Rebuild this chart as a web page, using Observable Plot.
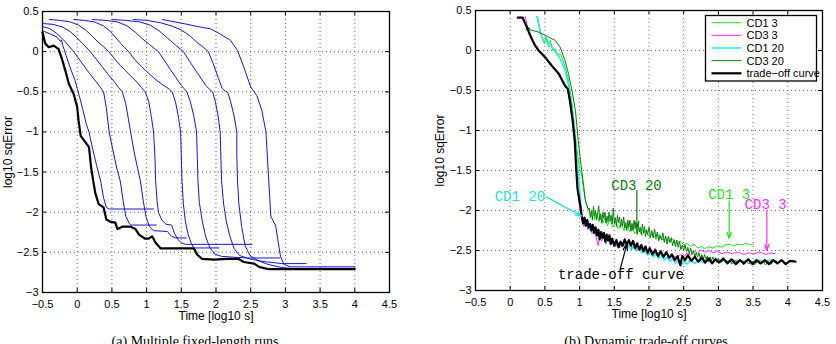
<!DOCTYPE html>
<html><head><meta charset="utf-8">
<script src="https://cdn.jsdelivr.net/npm/d3@7"></script>
<script src="https://cdn.jsdelivr.net/npm/@observablehq/plot@0.6"></script>
<style>
html,body{margin:0;padding:0;background:#fff;overflow:hidden}
#fig{position:relative;width:836px;height:344px;overflow:hidden}
.panel{position:absolute;top:0}
.caption{position:absolute;top:334px;font:14px/16px "Liberation Serif","Times New Roman",serif;white-space:nowrap;transform:translateX(-50%)}
</style></head>
<body><div id="fig"></div>
<script>
// shared axes
const xTicks = [-0.5, 0, 0.5, 1, 1.5, 2, 2.5, 3, 3.5, 4, 4.5];
const yTicks = [0.5, 0, -0.5, -1, -1.5, -2, -2.5, -3];

// (a) individual runs: [log10 time, log10 squared error]
const run1 = [[-0.5,0.26],[-0.385,0.22],[-0.29,0.18],[-0.24,0.126],[-0.226,0.147],[-0.207,0.076],[-0.144,-0.09],[-0.08,-0.25],[-0.03,-0.36],[0.0,-0.46],[0.03,-0.55],[0.08,-0.72],[0.13,-0.9],[0.17,-1.0],[0.22,-1.2],[0.28,-1.42],[0.34,-1.62],[0.38,-1.82],[0.42,-1.94],[0.46,-1.96],[1.10,-1.96]];
const run2 = [[-0.5,0.31],[-0.40,0.29],[-0.30,0.23],[-0.20,0.15],[-0.12,0.07],[-0.05,0.0],[0.05,-0.12],[0.15,-0.24],[0.25,-0.35],[0.33,-0.44],[0.38,-0.50],[0.42,-0.70],[0.46,-1.0],[0.52,-1.25],[0.57,-1.45],[0.62,-1.61],[0.66,-1.85],[0.70,-2.05],[0.75,-2.14],[0.78,-2.16],[1.14,-2.16]];
const run3 = [[-0.5,0.35],[-0.35,0.34],[-0.22,0.31],[-0.10,0.25],[0.0,0.17],[0.08,0.10],[0.19,0.0],[0.28,-0.10],[0.37,-0.20],[0.46,-0.30],[0.54,-0.38],[0.60,-0.45],[0.65,-0.50],[0.70,-0.65],[0.74,-0.85],[0.77,-1.0],[0.82,-1.25],[0.87,-1.45],[0.91,-1.61],[0.95,-1.85],[0.99,-2.05],[1.04,-2.18],[1.10,-2.23],[1.30,-2.24],[1.36,-2.30],[1.42,-2.32],[1.57,-2.32]];
const run4 = [[-0.40,0.40],[-0.25,0.39],[-0.10,0.37],[0.02,0.33],[0.12,0.27],[0.22,0.19],[0.30,0.12],[0.38,0.06],[0.455,0.0],[0.53,-0.08],[0.62,-0.17],[0.70,-0.24],[0.78,-0.31],[0.86,-0.38],[0.93,-0.45],[0.98,-0.50],[1.03,-0.62],[1.07,-0.82],[1.10,-1.0],[1.12,-1.3],[1.13,-1.61],[1.15,-1.85],[1.17,-2.0],[1.22,-2.1],[1.28,-2.15],[1.36,-2.16],[1.40,-2.26],[1.45,-2.34],[1.50,-2.38],[1.56,-2.40],[2.52,-2.40]];
const run5 = [[-0.05,0.40],[0.10,0.39],[0.25,0.37],[0.38,0.32],[0.48,0.25],[0.56,0.17],[0.64,0.09],[0.74,0.0],[0.83,-0.10],[0.93,-0.19],[1.03,-0.27],[1.12,-0.34],[1.21,-0.40],[1.28,-0.44],[1.33,-0.47],[1.37,-0.50],[1.42,-0.64],[1.46,-0.82],[1.49,-1.0],[1.50,-1.3],[1.51,-1.61],[1.53,-1.9],[1.56,-2.12],[1.60,-2.28],[1.64,-2.38],[1.68,-2.445],[2.04,-2.445]];
const run6 = [[0.22,0.40],[0.40,0.39],[0.58,0.37],[0.72,0.32],[0.84,0.24],[0.94,0.16],[1.04,0.09],[1.11,0.04],[1.17,0.0],[1.25,-0.10],[1.34,-0.22],[1.42,-0.32],[1.49,-0.41],[1.54,-0.46],[1.58,-0.50],[1.63,-0.62],[1.68,-0.8],[1.72,-1.0],[1.73,-1.3],[1.74,-1.61],[1.76,-1.88],[1.80,-2.1],[1.85,-2.3],[1.91,-2.44],[1.98,-2.52],[2.08,-2.55],[2.25,-2.56],[2.45,-2.57],[2.92,-2.57]];
const run7 = [[0.50,0.40],[0.70,0.39],[0.90,0.37],[1.05,0.33],[1.18,0.26],[1.30,0.17],[1.42,0.08],[1.53,0.0],[1.62,-0.12],[1.71,-0.24],[1.79,-0.34],[1.86,-0.43],[1.91,-0.47],[1.95,-0.50],[1.99,-0.62],[2.03,-0.8],[2.06,-1.0],[2.07,-1.3],[2.08,-1.61],[2.11,-1.9],[2.15,-2.12],[2.20,-2.3],[2.26,-2.45],[2.34,-2.54],[2.48,-2.58],[2.65,-2.61],[2.85,-2.63],[2.95,-2.64],[3.30,-2.64]];
const run8 = [[0.81,0.40],[1.00,0.39],[1.20,0.36],[1.36,0.32],[1.50,0.27],[1.62,0.20],[1.72,0.12],[1.81,0.06],[1.89,0.0],[1.96,-0.15],[2.03,-0.32],[2.09,-0.46],[2.13,-0.49],[2.17,-0.51],[2.21,-0.62],[2.26,-0.8],[2.30,-1.0],[2.30,-1.3],[2.31,-1.61],[2.33,-1.9],[2.37,-2.18],[2.42,-2.42],[2.49,-2.54],[2.60,-2.60],[2.75,-2.65],[2.95,-2.69],[3.10,-2.70],[4.0,-2.70]];
const run9 = [[1.23,0.40],[1.51,0.354],[1.78,0.305],[1.92,0.284],[2.06,0.22],[2.21,0.14],[2.31,0.014],[2.40,-0.19],[2.50,-0.44],[2.59,-0.55],[2.66,-0.73],[2.72,-1.0],[2.74,-1.3],[2.76,-1.61],[2.77,-1.76],[2.79,-2.05],[2.86,-2.17],[2.89,-2.34],[2.93,-2.55],[2.98,-2.65],[3.07,-2.68],[4.0,-2.68]];
const envelopeA = [[-0.5,0.24],[-0.46,0.10],[-0.41,0.055],[-0.34,0.075],[-0.27,0.035],[-0.22,-0.09],[-0.17,-0.24],[-0.12,-0.40],[-0.05,-0.53],[0.0,-0.69],[0.02,-0.86],[0.05,-1.05],[0.12,-1.13],[0.17,-1.19],[0.20,-1.44],[0.22,-1.55],[0.26,-1.76],[0.31,-1.90],[0.38,-1.94],[0.42,-2.09],[0.48,-2.12],[0.55,-2.13],[0.58,-2.21],[0.65,-2.18],[0.77,-2.18],[0.84,-2.21],[0.89,-2.28],[0.98,-2.33],[1.03,-2.33],[1.08,-2.30],[1.13,-2.38],[1.20,-2.45],[1.68,-2.45],[1.73,-2.53],[1.80,-2.58],[1.97,-2.59],[2.16,-2.58],[2.32,-2.58],[2.40,-2.62],[2.55,-2.64],[2.62,-2.68],[2.76,-2.71],[4.0,-2.71]];

// (b) compared methods
const cd1_3 = [[0.384,0.425],[0.432,0.229],[0.466,0.146],[0.494,0.083],[0.513,0.175],[0.552,0.042],[0.581,0.125],[0.610,0.0],[0.648,0.021],[0.686,-0.0625],[0.720,-0.042],[0.754,-0.104],[0.792,-0.208],[0.830,-0.333],[0.864,-0.5],[0.898,-0.708],[0.936,-1.04],[0.975,-1.33],[1.008,-1.5],[1.032,-1.567],[1.056,-1.733],[1.090,-1.90],[1.128,-1.983],
  [1.16,-2.06],[1.19,-2.00],[1.22,-2.11],[1.25,-2.03],[1.28,-2.14],[1.31,-2.08],[1.34,-2.15],[1.37,-2.09],[1.40,-2.19],[1.44,-2.11],[1.48,-2.21],[1.52,-2.13],[1.56,-2.23],[1.60,-2.16],[1.64,-2.25],[1.68,-2.18],[1.72,-2.26],[1.76,-2.22],[1.80,-2.29],[1.85,-2.22],[1.90,-2.31],[1.95,-2.25],[2.00,-2.33],[2.05,-2.29],[2.10,-2.36],[2.15,-2.30],[2.20,-2.37],[2.25,-2.34],[2.30,-2.39],[2.35,-2.35],[2.40,-2.42],[2.45,-2.38],[2.50,-2.43],[2.55,-2.41],[2.60,-2.45],[2.65,-2.42],[2.70,-2.47],[2.75,-2.45],[2.80,-2.48],[2.86,-2.45],[2.92,-2.47],[2.98,-2.44],[3.04,-2.46],[3.10,-2.43],[3.16,-2.42],[3.22,-2.44],[3.28,-2.42],[3.34,-2.43],[3.40,-2.41],[3.46,-2.43],[3.50,-2.42]];
const cd3_3 = [[0.216,0.425],[0.24,0.333],[0.273,0.208],[0.302,0.146],[0.336,0.104],[0.36,0.06],[0.41,-0.01],[0.5,-0.09],[0.6,-0.2],[0.7,-0.3],[0.79,-0.45],[0.83,-0.5],[0.86,-0.64],[0.9,-0.9],[0.93,-1.15],[0.95,-1.48],[0.975,-1.75],[1.0,-1.95],
  [1.03,-2.10],[1.06,-2.20],[1.09,-2.14],[1.12,-2.24],[1.15,-2.19],[1.18,-2.29],[1.21,-2.23],[1.24,-2.34],[1.27,-2.44],[1.29,-2.30],[1.32,-2.38],[1.35,-2.33],[1.38,-2.42],[1.41,-2.36],[1.44,-2.43],[1.48,-2.38],[1.52,-2.45],[1.56,-2.40],[1.60,-2.46],[1.64,-2.41],[1.68,-2.47],[1.72,-2.42],[1.76,-2.48],[1.80,-2.44],[1.84,-2.50],[1.88,-2.46],[1.92,-2.52],[1.96,-2.48],[2.00,-2.54],[2.05,-2.50],[2.10,-2.56],[2.15,-2.52],[2.20,-2.58],[2.25,-2.54],[2.30,-2.60],[2.35,-2.56],[2.40,-2.60],[2.45,-2.55],[2.50,-2.58],[2.55,-2.53],[2.60,-2.56],[2.65,-2.51],[2.70,-2.53],[2.75,-2.49],[2.80,-2.52],[2.86,-2.50],[2.92,-2.53],[2.98,-2.51],[3.05,-2.54],[3.12,-2.52],[3.20,-2.54],[3.28,-2.52],[3.36,-2.55],[3.44,-2.53],[3.52,-2.54],[3.60,-2.52],[3.68,-2.55],[3.76,-2.53],[3.82,-2.54]];
const cd1_20 = [[0.393,0.425],[0.417,0.313],[0.441,0.208],[0.466,0.146],[0.504,0.104],[0.538,0.133],[0.566,0.083],[0.60,0.042],[0.638,0.0],[0.672,-0.042],[0.706,-0.083],[0.744,-0.146],[0.782,-0.229],[0.816,-0.333],[0.85,-0.479],[0.879,-0.625],[0.912,-0.875],[0.946,-1.21],[0.975,-1.46],[1.0,-1.73],[1.018,-1.94],
  [1.03,-2.05],[1.05,-2.16],[1.07,-2.09],[1.09,-2.19],[1.11,-2.14],[1.14,-2.24],[1.17,-2.18],[1.20,-2.28],[1.23,-2.22],[1.26,-2.32],[1.29,-2.26],[1.32,-2.36],[1.35,-2.30],[1.38,-2.40],[1.41,-2.33],[1.44,-2.41],[1.47,-2.36],[1.50,-2.44],[1.54,-2.39],[1.58,-2.46],[1.62,-2.41],[1.66,-2.47],[1.70,-2.43],[1.74,-2.49],[1.78,-2.44],[1.82,-2.50],[1.86,-2.46],[1.90,-2.53],[1.94,-2.49],[1.98,-2.56],[2.02,-2.51],[2.06,-2.58],[2.10,-2.54],[2.14,-2.60],[2.18,-2.56],[2.22,-2.62],[2.26,-2.58],[2.30,-2.64],[2.34,-2.60],[2.38,-2.66],[2.42,-2.62],[2.46,-2.70],[2.50,-2.63],[2.55,-2.67],[2.60,-2.62],[2.66,-2.66],[2.72,-2.62],[2.78,-2.65],[2.84,-2.62],[2.90,-2.65],[2.96,-2.62],[3.02,-2.64],[3.10,-2.62],[3.18,-2.65],[3.26,-2.62],[3.34,-2.64],[3.42,-2.62],[3.50,-2.65],[3.58,-2.62],[3.66,-2.64],[3.74,-2.62],[3.84,-2.63]];
const cd3_20 = [[0.225,0.258],[0.26,0.27],[0.27,0.29],[0.28,0.26],[0.41,0.23],[0.55,0.17],[0.65,0.125],[0.72,0.04],[0.79,-0.125],[0.84,-0.29],[0.89,-0.5],[0.94,-0.75],[0.98,-1.125],[1.03,-1.5],[1.06,-1.7],[1.08,-1.86],[1.12,-1.98],
  [1.140,-1.97],[1.155,-2.09],[1.170,-2.01],[1.185,-2.12],[1.200,-1.95],[1.215,-2.07],[1.230,-2.01],[1.245,-2.12],[1.260,-2.04],[1.275,-1.94],[1.290,-2.12],[1.305,-2.04],[1.320,-2.16],[1.335,-2.02],[1.350,-2.10],[1.365,-2.02],[1.380,-2.16],[1.395,-2.07],[1.410,-2.14],[1.425,-2.02],[1.440,-2.13],[1.455,-2.06],[1.470,-2.17],[1.485,-1.97],[1.500,-2.16],[1.515,-2.09],[1.530,-2.20],[1.545,-2.06],[1.560,-2.15],[1.575,-2.08],[1.590,-2.21],[1.605,-2.11],[1.620,-2.19],[1.635,-2.08],[1.650,-2.22],[1.665,-2.15],[1.680,-2.25],[1.695,-2.12],[1.710,-2.21],[1.725,-2.12],[1.740,-2.26],[1.755,-2.16],[1.770,-2.25],[1.785,-2.12],[1.800,-2.23],[1.815,-2.17],[1.830,-2.30],[1.845,-2.16],[1.860,-2.27],[1.875,-2.21],[1.890,-2.30],[1.905,-2.17],[1.920,-2.28],[1.935,-2.20],[1.950,-2.33],[1.965,-2.24],[1.980,-2.30],[2.00,-2.21],[2.02,-2.34],[2.04,-2.25],[2.06,-2.34],[2.08,-2.23],[2.10,-2.34],[2.12,-2.27],[2.14,-2.38],[2.16,-2.31],[2.18,-2.37],[2.20,-2.28],[2.22,-2.40],[2.24,-2.32],[2.26,-2.42],[2.28,-2.32],[2.30,-2.40],[2.32,-2.34],[2.34,-2.44],[2.36,-2.37],[2.38,-2.45],[2.40,-2.37],[2.42,-2.46],[2.44,-2.39],[2.46,-2.49],[2.48,-2.43],[2.50,-2.50],[2.52,-2.43],[2.54,-2.51],[2.56,-2.46],[2.58,-2.54],[2.60,-2.47],[2.62,-2.55],[2.64,-2.50],[2.66,-2.58],[2.68,-2.53],[2.70,-2.58],[2.72,-2.53],[2.74,-2.60],[2.76,-2.55],[2.78,-2.62],[2.80,-2.55],[2.82,-2.61],[2.84,-2.57],[2.86,-2.64],[2.88,-2.58],[2.90,-2.63],[2.92,-2.58],[2.94,-2.63],[2.96,-2.59],[2.98,-2.65],[3.00,-2.60],[3.04,-2.65],[3.08,-2.61],[3.12,-2.66],[3.16,-2.62],[3.20,-2.67],[3.24,-2.62],[3.28,-2.66],[3.32,-2.62],[3.36,-2.68],[3.40,-2.63],[3.44,-2.67],[3.48,-2.63],[3.52,-2.68],[3.56,-2.64],[3.60,-2.67],[3.64,-2.63],[3.68,-2.68],[3.72,-2.64],[3.76,-2.67],[3.80,-2.63],[3.85,-2.65]];
const tradeOff = [[0.11,0.41],[0.18,0.41],[0.22,0.33],[0.26,0.25],[0.31,0.146],[0.36,0.06],[0.41,0.0],[0.50,-0.08],[0.60,-0.19],[0.70,-0.29],[0.79,-0.44],[0.83,-0.48],[0.86,-0.625],[0.90,-0.875],[0.93,-1.125],[0.95,-1.46],[0.97,-1.73],[1.01,-1.94],
  [1.03,-2.07],[1.05,-2.16],[1.07,-2.09],[1.09,-2.19],[1.11,-2.12],[1.13,-2.21],[1.15,-2.17],[1.17,-2.25],[1.19,-2.18],[1.21,-2.28],[1.23,-2.21],[1.25,-2.31],[1.27,-2.24],[1.29,-2.36],[1.31,-2.27],[1.33,-2.34],[1.35,-2.28],[1.37,-2.39],[1.39,-2.30],[1.41,-2.37],[1.43,-2.31],[1.45,-2.42],[1.47,-2.35],[1.50,-2.44],[1.53,-2.37],[1.56,-2.46],[1.59,-2.39],[1.62,-2.44],[1.65,-2.36],[1.68,-2.43],[1.71,-2.37],[1.74,-2.44],[1.77,-2.38],[1.80,-2.47],[1.83,-2.41],[1.86,-2.49],[1.89,-2.43],[1.92,-2.51],[1.95,-2.45],[1.98,-2.53],[2.01,-2.47],[2.05,-2.55],[2.09,-2.49],[2.13,-2.57],[2.17,-2.51],[2.21,-2.58],[2.25,-2.52],[2.29,-2.59],[2.33,-2.55],[2.37,-2.62],[2.41,-2.57],[2.45,-2.68],[2.48,-2.57],[2.52,-2.62],[2.56,-2.56],[2.61,-2.63],[2.66,-2.58],[2.71,-2.64],[2.76,-2.59],[2.81,-2.65],[2.86,-2.60],[2.91,-2.66],[2.96,-2.61],[3.01,-2.65],[3.07,-2.60],[3.13,-2.66],[3.19,-2.61],[3.25,-2.67],[3.31,-2.62],[3.37,-2.66],[3.43,-2.61],[3.49,-2.67],[3.55,-2.62],[3.61,-2.66],[3.67,-2.62],[3.73,-2.67],[3.79,-2.62],[3.85,-2.66],[3.91,-2.62],[3.97,-2.67],[4.03,-2.63],[4.11,-2.64]];

const seriesB = [
  {name: "CD1 3", data: cd1_3, color: "#1fe41f", width: 1},
  {name: "CD3 3", data: cd3_3, color: "#ff2bff", width: 1},
  {name: "CD1 20", data: cd1_20, color: "#22ecec", width: 1.5},
  {name: "CD3 20", data: cd3_20, color: "#0a800a", width: 1},
  {name: "trade\u2212off curve", data: tradeOff, color: "#000000", width: 2.2}
];

// in-plot callouts for panel (b)
const callouts = [
  {text: "CD1 20", color: "#22dede", x: 0.14, y: -1.83, x1: 0.52, y1: -1.83, x2: 1.03, y2: -2.07},
  {text: "CD3 20", color: "#0a800a", x: 1.82, y: -1.684, x1: 1.825, y1: -1.75, x2: 1.825, y2: -2.21},
  {text: "CD1 3", color: "#1fe41f", x: 3.155, y: -1.796, x1: 3.155, y1: -1.88, x2: 3.155, y2: -2.35},
  {text: "CD3 3", color: "#ff2bff", x: 3.68, y: -1.929, x1: 3.698, y1: -2.0, x2: 3.698, y2: -2.50},
  {text: "trade-off curve", color: "#000000", x: 1.596, y: -2.796, x1: 1.585, y1: -2.733, x2: 1.681, y2: -2.421}
];

const captions = [
  {text: "(a) Multiple fixed-length runs", x: 195},
  {text: "(b) Dynamic trade-off curves", x: 646}
];

const runsA = [run1, run2, run3, run4, run5, run6, run7, run8, run9];
const rowsA = runsA.flatMap((r, i) => r.map(([t, e]) => ({run: i, t, e})));

const sans = "'Liberation Sans', Arial, Helvetica, sans-serif";
const fmt = d => d < 0 ? "\u2212" + Math.abs(d) : String(d);

function axesFrame(innerW, innerH, yTitleDx) {
  return {
    under: [
      Plot.gridX(xTicks, {stroke: "#555", strokeOpacity: 1, strokeWidth: 0.9, strokeDasharray: "1,3"}),
      Plot.gridY(yTicks, {stroke: "#555", strokeOpacity: 1, strokeWidth: 0.9, strokeDasharray: "1,3"})
    ],
    over: [
      Plot.frame({stroke: "#000", strokeWidth: 1.3}),
      Plot.ruleX(xTicks, {x: d => d, insetTop: innerH - 4, stroke: "#000"}),
      Plot.ruleX(xTicks, {x: d => d, insetBottom: innerH - 4, stroke: "#000"}),
      Plot.ruleY(yTicks, {y: d => d, insetRight: innerW - 4, stroke: "#000"}),
      Plot.ruleY(yTicks, {y: d => d, insetLeft: innerW - 4, stroke: "#000"}),
      Plot.axisX(xTicks, {anchor: "bottom", tickSize: 0, tickPadding: 8, tickFormat: fmt, label: null, fontSize: 11}),
      Plot.axisY(yTicks, {anchor: "left", tickSize: 0, tickPadding: 4, tickFormat: fmt, label: null, fontSize: 11}),
      Plot.text(["Time [log10 s]"], {text: d => d, frameAnchor: "bottom", lineAnchor: "middle", textAnchor: "middle", dy: 24, fontSize: 12}),
      Plot.text(["log10 sqError"], {text: d => d, frameAnchor: "left", lineAnchor: "middle", textAnchor: "middle", rotate: -90, dx: yTitleDx, fontSize: 12})
    ]
  };
}

const H = 330;

// panel (a)
const fa = axesFrame(347, 281, -34);
const plotA = Plot.plot({
  width: 418, height: H,
  marginLeft: 42, marginRight: 29, marginTop: 11, marginBottom: H - 292,
  style: {fontFamily: sans, fontSize: "11px", background: "transparent", color: "#000"},
  x: {domain: [-0.5, 4.5], label: null},
  y: {domain: [-3, 0.5], label: null},
  marks: [
    ...fa.under,
    Plot.line(rowsA, {x: "t", y: "e", z: "run", stroke: "#1414dc", strokeWidth: 1}),
    Plot.line(envelopeA, {x: d => d[0], y: d => d[1], stroke: "#000", strokeWidth: 2.2}),
    ...fa.over
  ]
});

// panel (b)
const fb = axesFrame(347, 280, -35);
const plotB = Plot.plot({
  width: 418, height: H,
  marginLeft: 57, marginRight: 14, marginTop: 10, marginBottom: H - 290,
  style: {fontFamily: sans, fontSize: "11px", background: "transparent", color: "#000"},
  x: {domain: [-0.5, 4.5], label: null},
  y: {domain: [-3, 0.5], label: null},
  marks: [
    ...fb.under,
    ...seriesB.map(s => Plot.line(s.data, {x: d => d[0], y: d => d[1], stroke: s.color, strokeWidth: s.width})),
    Plot.arrow(callouts, {x1: "x1", y1: "y1", x2: "x2", y2: "y2", stroke: "color", strokeWidth: 1.2, headLength: 8, headAngle: 40}),
    Plot.text(callouts, {x: "x", y: "y", text: "text", fill: "color", fontFamily: "'Liberation Mono', 'Courier New', monospace", fontSize: 14}),
    ...fb.over
  ]
});

// legend box in the upper right of panel (b)
const lg = d3.select(plotB).append("g").attr("font-family", sans).attr("font-size", 11).attr("text-anchor", "start");
lg.append("rect").attr("x", 287.5).attr("y", 15.5).attr("width", 111).attr("height", 65.5)
  .attr("fill", "#fff").attr("stroke", "#000").attr("stroke-width", 1.3);
seriesB.forEach((s, i) => {
  const y = 22.7 + i * 12.65;
  lg.append("line").attr("x1", 293.5).attr("x2", 323.5).attr("y1", y).attr("y2", y)
    .attr("stroke", s.color).attr("stroke-width", s.width);
  lg.append("text").attr("x", 328.5).attr("y", y).attr("dy", "0.35em").attr("fill", "#000")
    .attr("text-anchor", "start").text(s.name);
});

const fig = document.getElementById("fig");
plotA.classList.add("panel"); plotA.style.left = "0px";
plotB.classList.add("panel"); plotB.style.left = "418px";
fig.appendChild(plotA);
fig.appendChild(plotB);
for (const c of captions) {
  const div = document.createElement("div");
  div.className = "caption";
  div.style.left = c.x + "px";
  div.textContent = c.text;
  fig.appendChild(div);
}
</script></body></html>
